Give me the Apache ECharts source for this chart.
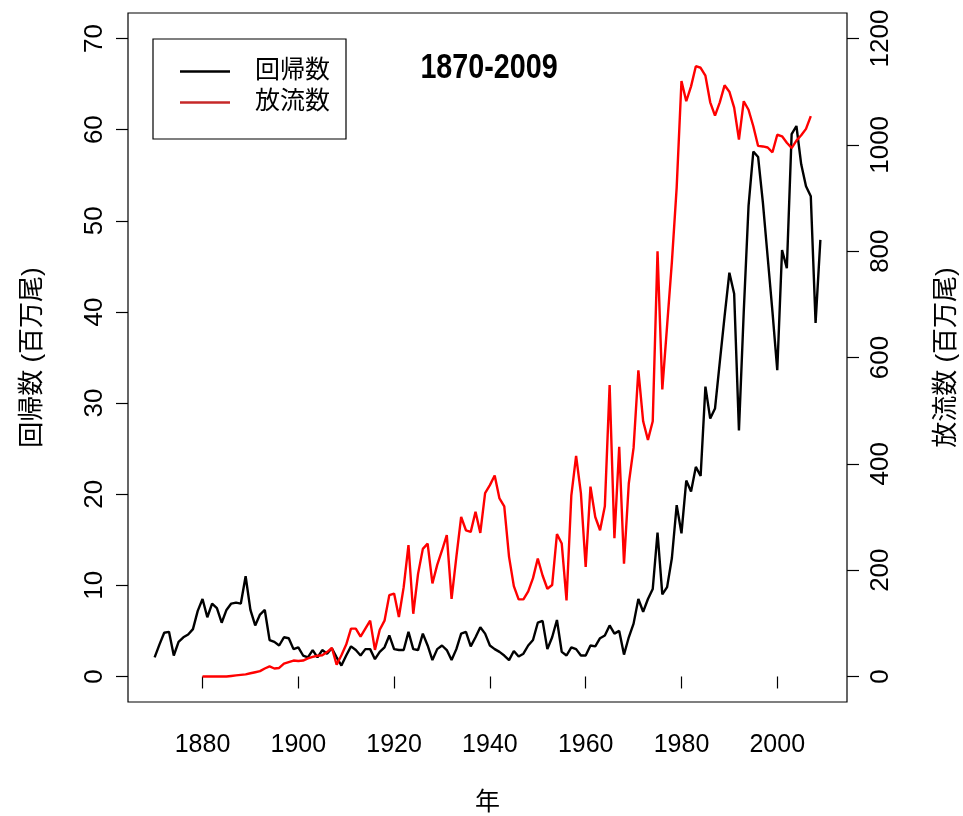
<!DOCTYPE html>
<html>
<head>
<meta charset="utf-8">
<script src="https://cdn.jsdelivr.net/npm/echarts@6/dist/echarts.min.js"></script>
<style>
html,body{margin:0;padding:0;background:#fff;}
#chart{width:963px;height:816px;}
</style>
</head>
<body>
<div id="chart"></div>
<script>
// ---- data ----
const returnYears = [
  1870,1871,1872,1873,1874,1875,1876,1877,1878,1879,
  1880,1881,1882,1883,1884,1885,1886,1887,1888,1889,
  1890,1891,1892,1893,1894,1895,1896,1897,1898,1899,
  1900,1901,1902,1903,1904,1905,1906,1907,1908,1909,
  1910,1911,1912,1913,1914,1915,1916,1917,1918,1919,
  1920,1921,1922,1923,1924,1925,1926,1927,1928,1929,
  1930,1931,1932,1933,1934,1935,1936,1937,1938,1939,
  1940,1941,1942,1943,1944,1945,1946,1947,1948,1949,
  1950,1951,1952,1953,1954,1955,1956,1957,1958,1959,
  1960,1961,1962,1963,1964,1965,1966,1967,1968,1969,
  1970,1971,1972,1973,1974,1975,1976,1977,1978,1979,
  1980,1981,1982,1983,1984,1985,1986,1987,1988,1989,
  1990,1991,1992,1993,1994,1995,1996,1997,1998,1999,
  2000,2001,2002,2003,2004,2005,2006,2007,2008,2009
];
// 回帰数 (百万尾)
const returnValues = [
  2.1,3.5,4.8,4.9,2.3,3.8,4.3,4.6,5.2,7.2,
  8.5,6.5,8.0,7.5,5.9,7.3,8.0,8.1,8.0,11.0,
  7.3,5.6,6.8,7.3,4.0,3.8,3.4,4.3,4.2,3.0,
  3.2,2.3,2.1,2.9,2.1,2.9,2.5,3.1,2.1,1.2,
  2.3,3.3,2.9,2.3,3.0,3.0,1.9,2.7,3.2,4.5,
  3.0,2.9,2.9,4.9,3.0,2.9,4.7,3.4,1.8,3.0,
  3.4,2.9,1.8,3.0,4.7,4.9,3.3,4.3,5.4,4.7,
  3.4,3.0,2.7,2.3,1.8,2.8,2.2,2.5,3.4,4.0,
  5.9,6.1,3.0,4.3,6.2,2.7,2.3,3.2,3.0,2.3,
  2.3,3.4,3.3,4.2,4.5,5.6,4.7,5.0,2.4,4.3,
  5.8,8.5,7.1,8.5,9.6,15.8,9.0,9.8,13.0,18.8,
  15.7,21.5,20.3,23.0,22.0,31.8,28.3,29.4,34.5,39.5,
  44.3,42.0,27.0,40.0,51.6,57.6,57.0,52.0,46.0,40.0,
  33.6,46.8,44.8,59.5,60.4,56.2,53.8,52.7,38.8,47.9
];
const releaseYears = [
  1880,1881,1882,1883,1884,1885,1886,1887,1888,1889,
  1890,1891,1892,1893,1894,1895,1896,1897,1898,1899,
  1900,1901,1902,1903,1904,1905,1906,1907,1908,1909,
  1910,1911,1912,1913,1914,1915,1916,1917,1918,1919,
  1920,1921,1922,1923,1924,1925,1926,1927,1928,1929,
  1930,1931,1932,1933,1934,1935,1936,1937,1938,1939,
  1940,1941,1942,1943,1944,1945,1946,1947,1948,1949,
  1950,1951,1952,1953,1954,1955,1956,1957,1958,1959,
  1960,1961,1962,1963,1964,1965,1966,1967,1968,1969,
  1970,1971,1972,1973,1974,1975,1976,1977,1978,1979,
  1980,1981,1982,1983,1984,1985,1986,1987,1988,1989,
  1990,1991,1992,1993,1994,1995,1996,1997,1998,1999,
  2000,2001,2002,2003,2004,2005,2006,2007
];
// 放流数 (百万尾)
const releaseValues = [
  0,0,0,0,0,0,1,2,3,4,
  6,8,10,15,19,15,16,24,27,30,
  29,30,34,37,39,40,46,54,22,40,
  60,90,90,75,90,105,50,88,105,153,
  156,112,168,247,118,193,240,250,175,210,
  237,266,146,225,300,275,272,310,270,345,
  360,378,335,320,225,170,145,145,160,185,
  222,190,165,172,268,250,143,340,415,345,
  206,357,300,275,320,548,260,432,212,363,
  430,576,480,445,480,800,540,660,780,920,
  1120,1082,1110,1148,1145,1130,1080,1055,1080,1112,
  1100,1070,1010,1082,1066,1035,998,997,995,986,
  1019,1016,1004,994,1008,1018,1030,1054
];
const xTicks = [1880,1900,1920,1940,1960,1980,2000];
const leftTicks = [0,10,20,30,40,50,60,70];
const rightTicks = [0,200,400,600,800,1000,1200];
const seriesNames = ['回帰数','放流数'];
const chartTitle = '1870-2009';
const xName = '年';
const leftName = '回帰数 (百万尾)';
const rightName = '放流数 (百万尾)';

// ---- chart ----
const FONT = "'Liberation Sans','Noto Sans CJK JP',sans-serif";
const chart = echarts.init(document.getElementById('chart'), null, {renderer:'canvas'});
const pad = (lo, hi) => [lo - (hi - lo) * 0.04, hi + (hi - lo) * 0.04];
const xr = pad(1870, 2009);
const lr = pad(0, 70);
const rr = pad(0, 1200);

chart.setOption({
  animation: false,
  backgroundColor: '#fff',
  graphic: [{
    type: 'text', x: 489, y: 68, scaleX: 0.82, silent: true,
    style: {
      text: chartTitle, fill: '#000',
      font: "bold 35px 'Liberation Sans', sans-serif",
      align: 'center', verticalAlign: 'middle'
    }
  }],
  legend: {
    orient: 'vertical', left: 153, top: 39,
    padding: [20, 16, 24, 27],
    itemGap: 6, itemWidth: 50, itemHeight: 2.5,
    borderColor: '#000', borderWidth: 1.2,
    icon: 'rect',
    textStyle: {fontFamily: FONT, fontSize: 25, lineHeight: 25, color: '#000', padding: [0,0,0,20]},
    data: [
      {name: seriesNames[0], itemStyle: {color: '#000'}},
      {name: seriesNames[1], itemStyle: {color: '#c62828'}}
    ]
  },
  grid: {left: 128, right: 116, top: 13, bottom: 114, show: true, borderColor: '#000', borderWidth: 1.2, outerBoundsMode: 'none', containLabel: false},
  xAxis: {
    type: 'value', min: xr[0], max: xr[1],
    name: xName, nameLocation: 'middle', nameGap: 89,
    nameTextStyle: {fontFamily: FONT, fontSize: 25, color: '#000'},
    axisLine: {show: false},
    axisTick: {show: true, length: 12, lineStyle: {color: '#000', width: 1.2}, customValues: xTicks},
    axisLabel: {show: true, margin: 31, fontFamily: FONT, fontSize: 25, color: '#000', customValues: xTicks, formatter: v => String(v)},
    splitLine: {show: false}
  },
  yAxis: [
    {
      type: 'value', position: 'left', min: lr[0], max: lr[1],
      name: leftName, nameLocation: 'middle', nameGap: 82, nameRotate: 90,
      nameTextStyle: {fontFamily: FONT, fontSize: 26, color: '#000'},
      axisLine: {show: false},
      axisTick: {show: true, length: 12, lineStyle: {color: '#000', width: 1.2}, customValues: leftTicks},
      axisLabel: {show: true, rotate: 90, margin: 20, fontFamily: FONT, fontSize: 26, color: '#000', customValues: leftTicks, formatter: v => String(v)},
      splitLine: {show: false}
    },
    {
      type: 'value', position: 'right', min: rr[0], max: rr[1],
      name: rightName, nameLocation: 'middle', nameGap: 87, nameRotate: 90,
      nameTextStyle: {fontFamily: FONT, fontSize: 26, color: '#000'},
      axisLine: {show: false},
      axisTick: {show: true, length: 12, lineStyle: {color: '#000', width: 1.2}, customValues: rightTicks},
      axisLabel: {show: true, rotate: 90, margin: 21, fontFamily: FONT, fontSize: 26, color: '#000', customValues: rightTicks, formatter: v => String(v)},
      splitLine: {show: false}
    }
  ],
  series: [
    {
      name: seriesNames[0], type: 'line', yAxisIndex: 0, symbol: 'none',
      lineStyle: {color: '#000', width: 2.4}, itemStyle: {color: '#000'},
      data: returnYears.map((y, i) => [y, returnValues[i]])
    },
    {
      name: seriesNames[1], type: 'line', yAxisIndex: 1, symbol: 'none',
      lineStyle: {color: '#f00', width: 2.4}, itemStyle: {color: '#f00'},
      data: releaseYears.map((y, i) => [y, releaseValues[i]])
    }
  ]
});
</script>
</body>
</html>
